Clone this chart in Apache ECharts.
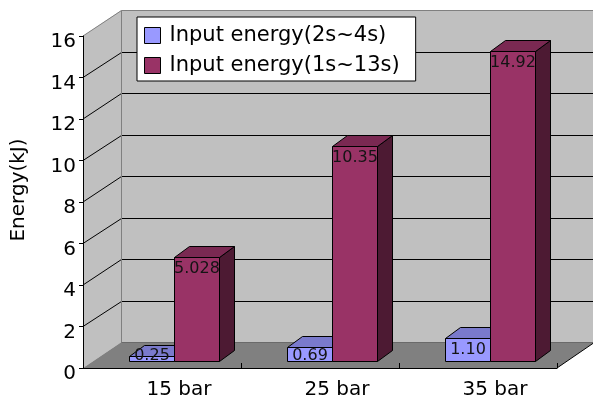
<!DOCTYPE html>
<html>
<head>
<meta charset="utf-8">
<script src="https://cdn.jsdelivr.net/npm/echarts@6/dist/echarts.min.js"></script>
<style>
  html, body { margin: 0; padding: 0; background: #fff; }
  #chart { width: 593px; height: 403px; }
</style>
</head>
<body>
<div id="chart"></div>
<script>
// Chart data
const categories = ['15 bar', '25 bar', '35 bar'];
const seriesNames = ['Input energy(2s~4s)', 'Input energy(1s~13s)'];
const shortInput = [0.25, 0.69, 1.10];   // 2s~4s
const longInput = [5.028, 10.35, 14.92]; // 1s~13s
const yTicks = [0, 2, 4, 6, 8, 10, 12, 14, 16];

const FONT = '"DejaVu Sans", sans-serif';

// Oblique projection of the 3D box (pixels)
const WALL_DX = 38, WALL_DY = -26;  // full depth of the box
const BAR_X0 = 11.7, BAR_Y0 = -7;   // where the row of bars sits inside the box
const BAR_DX = 15, BAR_DY = -11;    // thickness of each bar
const BAR_FRAC = 0.285;             // bar width as a share of the category band

const crisp = v => Math.round(v) + 0.5;

// Back wall, side wall, floor and the wall gridlines
function renderBox(params, api) {
  if (params.dataIndex !== 0) return;
  const band = api.size([1, 0])[0];
  const x0 = api.coord([0, 0])[0] - band / 2;
  const x1 = api.coord([categories.length - 1, 0])[0] + band / 2;
  const yBot = api.coord([0, yTicks[0]])[1];
  const yTop = api.coord([0, yTicks[yTicks.length - 1]])[1];
  const bx0 = crisp(x0 + WALL_DX), bx1 = x1 + WALL_DX;
  const children = [];

  children.push({ type: 'polygon', shape: { points: [[bx0, yTop + WALL_DY], [bx1, yTop + WALL_DY], [bx1, yBot + WALL_DY], [bx0, yBot + WALL_DY]] },
    style: { fill: '#c0c0c0' } });
  children.push({ type: 'polygon', shape: { points: [[x0, yTop], [bx0, yTop + WALL_DY], [bx0, yBot + WALL_DY], [x0, yBot]] },
    style: { fill: '#c0c0c0' } });
  children.push({ type: 'polygon', shape: { points: [[x0, yBot], [x1, yBot], [bx1, yBot + WALL_DY], [bx0, yBot + WALL_DY]] },
    style: { fill: '#808080' } });

  yTicks.slice(1, -1).forEach(t => {
    const y = api.coord([0, t])[1];
    const yb = crisp(y + WALL_DY);
    children.push({ type: 'polyline', shape: { points: [[x0, y], [bx0, yb], [bx1, yb]] },
      style: { stroke: '#000', lineWidth: 1, fill: null } });
  });

  const yt = crisp(yTop + WALL_DY), yf = crisp(yBot + WALL_DY);
  children.push({ type: 'polyline', shape: { points: [[x0, yTop], [bx0, yt], [bx1, yt]] },
    style: { stroke: '#808080', lineWidth: 1, fill: null } });
  children.push({ type: 'line', shape: { x1: bx0, y1: yt, x2: bx0, y2: yf }, style: { stroke: '#808080', lineWidth: 1 } });
  children.push({ type: 'line', shape: { x1: bx0, y1: yf, x2: bx1, y2: yf }, style: { stroke: '#6a6a6a', lineWidth: 1 } });
  children.push({ type: 'line', shape: { x1: x1, y1: yBot, x2: bx1, y2: yBot + WALL_DY }, style: { stroke: '#000', lineWidth: 1 } });

  return { type: 'group', children };
}

// A 3D bar: front face, top face, right face and its value label
function barRenderer(side, colors, fmt) {
  return function (params, api) {
    const cat = api.value(0), v = api.value(1);
    const band = api.size([1, 0])[0];
    const w = Math.round(band * BAR_FRAC);
    const base = api.coord([cat, 0]);
    const top = api.coord([cat, v]);
    const xl = crisp(base[0] + BAR_X0 - (side < 0 ? w : 0));
    const xr = xl + w;
    const yb = crisp(base[1] + BAR_Y0);
    const yt = crisp(top[1] + BAR_Y0);
    const line = { stroke: '#000', lineWidth: 1, lineJoin: 'miter' };
    const labelTop = Math.min(yt + 3, yb - 14);
    return {
      type: 'group',
      children: [
        { type: 'polygon', shape: { points: [[xr, yt], [xr + BAR_DX, yt + BAR_DY], [xr + BAR_DX, yb + BAR_DY], [xr, yb]] },
          style: Object.assign({ fill: colors[2] }, line) },
        { type: 'polygon', shape: { points: [[xl, yt], [xr, yt], [xr + BAR_DX, yt + BAR_DY], [xl + BAR_DX, yt + BAR_DY]] },
          style: Object.assign({ fill: colors[1] }, line) },
        { type: 'rect', shape: { x: xl, y: yt, width: w, height: yb - yt },
          style: Object.assign({ fill: colors[0] }, line) },
        { type: 'text', x: (xl + xr) / 2, y: labelTop,
          style: { text: fmt(v), font: '16px ' + FONT, fill: '#141414', align: 'center', verticalAlign: 'top' } }
      ]
    };
  };
}

const chart = echarts.init(document.getElementById('chart'), null, { renderer: 'canvas' });

chart.setOption({
  animation: false,
  backgroundColor: '#fff',
  grid: { left: 83, top: 36, width: 474, height: 332, containLabel: false, outerBoundsMode: 'none' },
  legend: {
    data: seriesNames,
    orient: 'vertical',
    left: 137,
    top: 17,
    icon: 'rect',
    itemWidth: 16,
    itemHeight: 16,
    itemGap: 9,
    padding: [8, 16, 5, 7],
    backgroundColor: '#fff',
    borderColor: '#000',
    borderWidth: 1,
    borderRadius: 0,
    itemStyle: { borderColor: '#000', borderWidth: 1 },
    textStyle: { fontFamily: FONT, fontSize: 21, color: '#000', padding: [0, 0, 0, 4] },
    selectedMode: false,
    z: 20
  },
  xAxis: {
    type: 'category',
    data: categories,
    z: 10,
    axisLine: { show: true, lineStyle: { color: '#000', width: 1 } },
    axisTick: { show: true, inside: true, length: 5, alignWithLabel: false, lineStyle: { color: '#000' } },
    axisLabel: { fontFamily: FONT, fontSize: 20, color: '#000', margin: 12, padding: [0, 0, 0, 34] },
    splitLine: { show: false }
  },
  yAxis: {
    type: 'value',
    min: 0,
    max: 16,
    interval: 2,
    z: 10,
    name: 'Energy(kJ)',
    nameLocation: 'middle',
    nameGap: 54,
    nameTextStyle: { fontFamily: FONT, fontSize: 20, color: '#000', padding: [0, 0, 0, 24] },
    axisLine: { show: true, lineStyle: { color: '#000', width: 1 } },
    axisTick: { show: true, length: 4, lineStyle: { color: '#000' } },
    axisLabel: { fontFamily: FONT, fontSize: 20, color: '#000', margin: 7, verticalAlign: 'top', lineHeight: 12 },
    splitLine: { show: false }
  },
  series: [
    {
      type: 'custom', name: 'walls', silent: true, clip: false, z: 1,
      renderItem: renderBox,
      data: [[0, 0]]
    },
    {
      type: 'custom', name: seriesNames[0], clip: false, z: 2,
      itemStyle: { color: '#9999ff' },
      renderItem: barRenderer(-1, ['#9999ff', '#7a7acc', '#4d4d80'], v => v.toFixed(2)),
      data: shortInput.map((v, i) => [i, v])
    },
    {
      type: 'custom', name: seriesNames[1], clip: false, z: 3,
      itemStyle: { color: '#993366' },
      renderItem: barRenderer(1, ['#993366', '#7a2952', '#4d1a33'], v => String(v)),
      data: longInput.map((v, i) => [i, v])
    }
  ]
});
</script>
</body>
</html>
